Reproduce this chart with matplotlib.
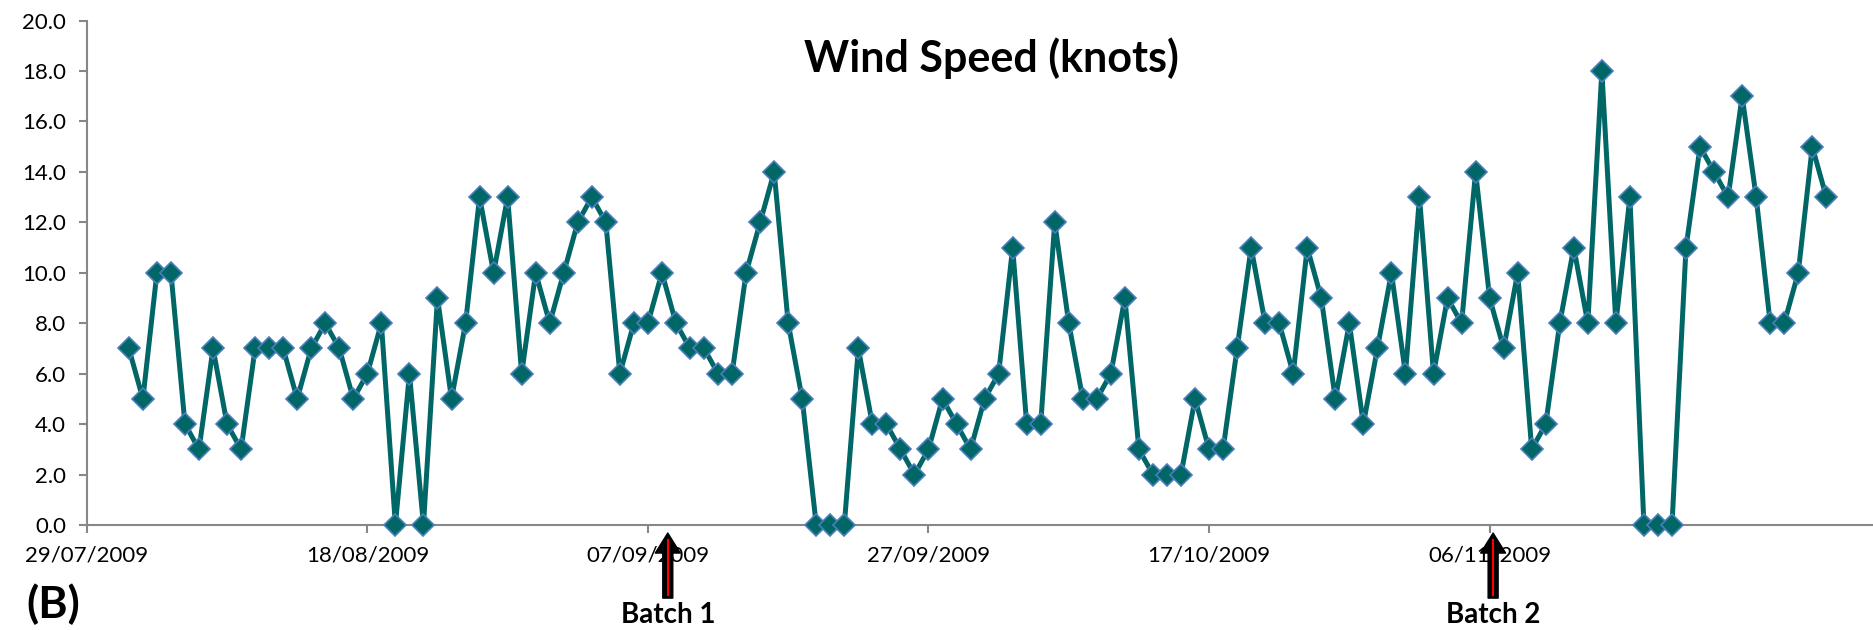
import matplotlib
matplotlib.use('Agg')
import matplotlib.pyplot as plt
import matplotlib.dates as mdates
import matplotlib.ticker as mticker
import numpy as np
import pandas as pd

# daily wind speed (knots)
aug = [7, 5, 10, 10, 4, 3, 7, 4, 3, 7, 7, 7, 5, 7, 8, 7, 5, 6, 8, 0,
       6, 0, 9, 5, 8, 13, 10, 13, 6, 10, 8]
sep = [10, 12, 13, 12, 6, 8, 8, 10, 8, 7, 7, 6, 6, 10, 12, 14, 8, 5, 0, 0,
       0, 7, 4, 4, 3, 2, 3, 5, 4, 3]
oct_ = [5, 6, 11, 4, 4, 12, 8, 5, 5, 6, 9, 3, 2, 2, 2, 5, 3, 3, 7, 11,
        8, 8, 6, 11, 9, 5, 8, 4, 7, 10, 6]
nov = [13, 6, 9, 8, 14, 9, 7, 10, 3, 4, 8, 11, 8, 18, 8, 13, 0, 0, 0, 11,
       15, 14, 13, 17, 13, 8, 8, 10, 15, 13]

wind = aug + sep + oct_ + nov
dates = pd.date_range('2009-08-01', periods=len(wind), freq='D')

tick_dates = pd.date_range('2009-07-29', periods=6, freq='20D')
batch_dates = [pd.Timestamp('2009-09-08 10:00'), pd.Timestamp('2009-11-06 06:00')]
batch_labels = ['Batch 1', 'Batch 2']

plt.rcParams['font.family'] = ['Lato', 'DejaVu Sans']

fig = plt.figure(figsize=(18.74, 6.30), dpi=100)
ax = fig.add_axes([0.0463, 0.1667, 0.9537, 0.8006])

ax.plot(dates, wind, color='#006666', lw=3.6, marker='D', markersize=11,
        markerfacecolor='#006666', markeredgecolor='#4A7EBB', markeredgewidth=1.2,
        clip_on=False, zorder=4)

ax.set_ylim(0, 20)
ax.set_xlim(tick_dates[0], tick_dates[0] + pd.Timedelta(days=127.4))
ax.yaxis.set_major_locator(mticker.MultipleLocator(2))
ax.yaxis.set_major_formatter(mticker.FormatStrFormatter('%.1f'))
ax.xaxis.set_major_locator(mticker.FixedLocator(mdates.date2num(tick_dates)))
ax.xaxis.set_major_formatter(mdates.DateFormatter('%d/%m/%Y'))

for s in ['top', 'right']:
    ax.spines[s].set_visible(False)
for s in ['left', 'bottom']:
    ax.spines[s].set_color('#878787')
    ax.spines[s].set_linewidth(1.5)
ax.tick_params(axis='both', colors='#878787', labelcolor='black', width=1.5,
               length=6, labelsize=16)
ax.tick_params(axis='x', pad=9)
ax.tick_params(axis='y', pad=9)

# batch arrows under the axis
for d, lab in zip(batch_dates, batch_labels):
    ax.annotate('', xy=(d, -0.32), xytext=(d, -2.9),
                arrowprops=dict(arrowstyle='simple,head_length=0.4,head_width=0.5,tail_width=0.2',
                                mutation_scale=36, fc='black', ec='black',
                                shrinkA=0, shrinkB=0),
                annotation_clip=False, zorder=5)
    ax.plot([d, d], [-0.6, -2.78], color='red', lw=1.5, clip_on=False, zorder=6)
    ax.text(d, -3.55, lab, ha='center', va='center', fontsize=20,
            fontweight='bold', clip_on=False)

fig.text(0.529, 0.908, 'Wind Speed (knots)', ha='center', va='center',
         fontsize=31, fontweight='bold')
fig.text(26 / 1874, 1 - 604 / 630, '(B)', ha='left', va='center',
         fontsize=32, fontweight='bold')

fig.savefig('out.png', dpi=100)
